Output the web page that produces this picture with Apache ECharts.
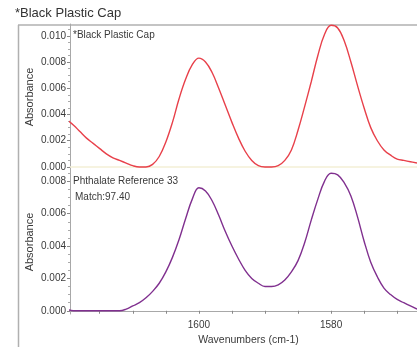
<!DOCTYPE html>
<html>
<head>
<meta charset="utf-8">
<script src="https://cdn.jsdelivr.net/npm/echarts@6/dist/echarts.min.js"></script>
<style>html,body{margin:0;padding:0;background:#fff}#c{width:417px;height:347px}</style>
</head>
<body>
<div id="c"></div>
<script>
// Wavenumbers (cm-1), descending
const wavenumbers = [1620,1619,1618,1617,1616,1615,1614,1613,1612,1611,1610,1609,1608,1607,1606,1605,1604,1603,1602,1601,1600,1599,1598,1597,1596,1595,1594,1593,1592,1591,1590,1589,1588,1587,1586,1585,1584,1583,1582,1581,1580,1579,1578,1577,1576,1575,1574,1573,1572,1571,1570,1569,1568,1567];
// *Black Plastic Cap (sample)
const sampleAbs = [0.0036,0.0032,0.0027,0.0022,0.0018,0.0014,0.0010,0.0007,0.0005,0.0003,0.0001,0.0000,0.0000,0.0002,0.0008,0.0019,0.0034,0.0052,0.0067,0.0078,0.0083,0.0080,0.0072,0.0060,0.0047,0.0034,0.0022,0.0012,0.0005,0.0001,0.0000,0.0000,0.0001,0.0005,0.0013,0.0028,0.0046,0.0065,0.0085,0.0101,0.0108,0.0106,0.0096,0.0080,0.0062,0.0045,0.0030,0.0020,0.0013,0.0009,0.0006,0.0005,0.0004,0.0003];
// Phthalate Reference 33
const referenceAbs = [0.0001,0.0000,0.0000,0.0000,0.0000,0.0000,0.0000,0.0000,0.0000,0.0001,0.0003,0.0005,0.0008,0.0012,0.0017,0.0024,0.0033,0.0044,0.0057,0.0069,0.0076,0.0074,0.0068,0.0059,0.0049,0.0040,0.0032,0.0025,0.0020,0.0017,0.0015,0.0015,0.0016,0.0019,0.0024,0.0031,0.0042,0.0056,0.0069,0.0080,0.0085,0.0084,0.0079,0.0071,0.0058,0.0043,0.0030,0.0021,0.0014,0.0010,0.0007,0.0005,0.0003,0.0001];
const topTicks = [0, 0.002, 0.004, 0.006, 0.008, 0.010];
const bottomTicks = [0, 0.002, 0.004, 0.006, 0.008];
const topMinorTicks = [0.0005,0.001,0.0015,0.0025,0.003,0.0035,0.0045,0.005,0.0055,0.0065,0.007,0.0075,0.0085,0.009,0.0095,0.0105];
const bottomMinorTicks = [0.0005,0.001,0.0015,0.0025,0.003,0.0035,0.0045,0.005,0.0055,0.0065,0.007,0.0075,0.0085];
const xLabelTicks = [1580, 1600];
const xMinorTicks = [1570,1575,1580,1585,1590,1595,1600,1605,1610,1615];

const chartTitle = '*Black Plastic Cap';
const sampleName = '*Black Plastic Cap';
const refName = 'Phthalate Reference 33';
const matchText = 'Match:97.40';

const pair = (ys) => wavenumbers.map((w, i) => [w, ys[i]]);
const FONT = 'Liberation Sans, Arial, sans-serif';
const TXT = '#3a3a3a';

const chart = echarts.init(document.getElementById('c'), null, {renderer: 'canvas'});
const yAxisMain = (ticks, grid, min, max) => ({
  type: 'value', gridIndex: grid, min: min, max: max,
  name: 'Absorbance',
  nameLocation: 'middle',
  nameRotate: 90,
  nameGap: 35,
  nameMoveOverlap: false,
  nameTextStyle: {fontFamily: FONT, fontSize: 11, color: TXT},
  axisLine: {show: true, lineStyle: {color: '#a8a8a8', width: 1}},
  axisTick: {show: true, length: 3, lineStyle: {color: '#888'}, customValues: ticks},
  axisLabel: {fontFamily: FONT, fontSize: 10, color: TXT, margin: 4, customValues: ticks,
    formatter: (v) => v.toFixed(3)},
  splitLine: {show: false}
});
const yAxisMinor = (ticks, grid, min, max) => ({
  type: 'value', gridIndex: grid, min: min, max: max, position: 'left',
  axisLine: {show: false},
  axisTick: {show: true, length: 2, lineStyle: {color: '#aaa'}, customValues: ticks},
  axisLabel: {show: false}, splitLine: {show: false}
});
chart.setOption({
  animation: false,
  title: [
    {text: chartTitle, left: 15, top: 7, padding: 0, textStyle: {fontFamily: FONT, fontSize: 13, fontWeight: 'normal', color: '#333'}},
    {text: sampleName, left: 73, top: 30, padding: 0, textStyle: {fontFamily: FONT, fontSize: 10, fontWeight: 'normal', color: TXT}},
    {text: refName, left: 73, top: 176, padding: 0, textStyle: {fontFamily: FONT, fontSize: 10, fontWeight: 'normal', color: TXT}},
    {text: matchText, left: 75, top: 192, padding: 0, textStyle: {fontFamily: FONT, fontSize: 10, fontWeight: 'normal', color: TXT}}
  ],
  graphic: [
    {type: 'line', shape: {x1: 18, y1: 25, x2: 417, y2: 25}, style: {stroke: '#b0b0b0', lineWidth: 1.5}, z: 0},
    {type: 'line', shape: {x1: 18.5, y1: 25, x2: 18.5, y2: 347}, style: {stroke: '#b0b0b0', lineWidth: 1.5}, z: 0}
  ],
  grid: [
    {left: 70, right: 0, top: 24, height: 146},
    {left: 70, right: 0, top: 170, height: 146}
  ],
  xAxis: [
    {type: 'value', gridIndex: 0, min: 1567, max: 1619.5, inverse: true,
      axisLine: {show: true, lineStyle: {color: '#f3efd6', width: 1.5}},
      axisTick: {show: false}, axisLabel: {show: false}, splitLine: {show: false}},
    {type: 'value', gridIndex: 1, min: 1567, max: 1619.5, inverse: true,
      name: 'Wavenumbers (cm-1)', nameLocation: 'middle', nameGap: 21,
      nameTextStyle: {fontFamily: FONT, fontSize: 10.5, color: TXT, padding: [0, 0, 0, 10]},
      axisLine: {show: true, lineStyle: {color: '#a8a8a8', width: 1}},
      axisTick: {show: true, length: 3, lineStyle: {color: '#888'}, customValues: xMinorTicks},
      axisLabel: {fontFamily: FONT, fontSize: 10, color: TXT, margin: 6, customValues: xLabelTicks,
        formatter: (v) => String(v)},
      splitLine: {show: false}}
  ],
  yAxis: [
    yAxisMain(topTicks, 0, -0.00023, 0.0109),
    yAxisMain(bottomTicks, 1, -0.0002, 0.0087),
    yAxisMinor(topMinorTicks, 0, -0.00023, 0.0109),
    yAxisMinor(bottomMinorTicks, 1, -0.0002, 0.0087)
  ],
  series: [
    {type: 'line', xAxisIndex: 0, yAxisIndex: 0, data: pair(sampleAbs), smooth: 0.4, showSymbol: false,
      lineStyle: {color: '#e8404a', width: 1.4}},
    {type: 'line', xAxisIndex: 1, yAxisIndex: 1, data: pair(referenceAbs), smooth: 0.4, showSymbol: false,
      lineStyle: {color: '#80308f', width: 1.4}}
  ]
});
</script>
</body>
</html>
